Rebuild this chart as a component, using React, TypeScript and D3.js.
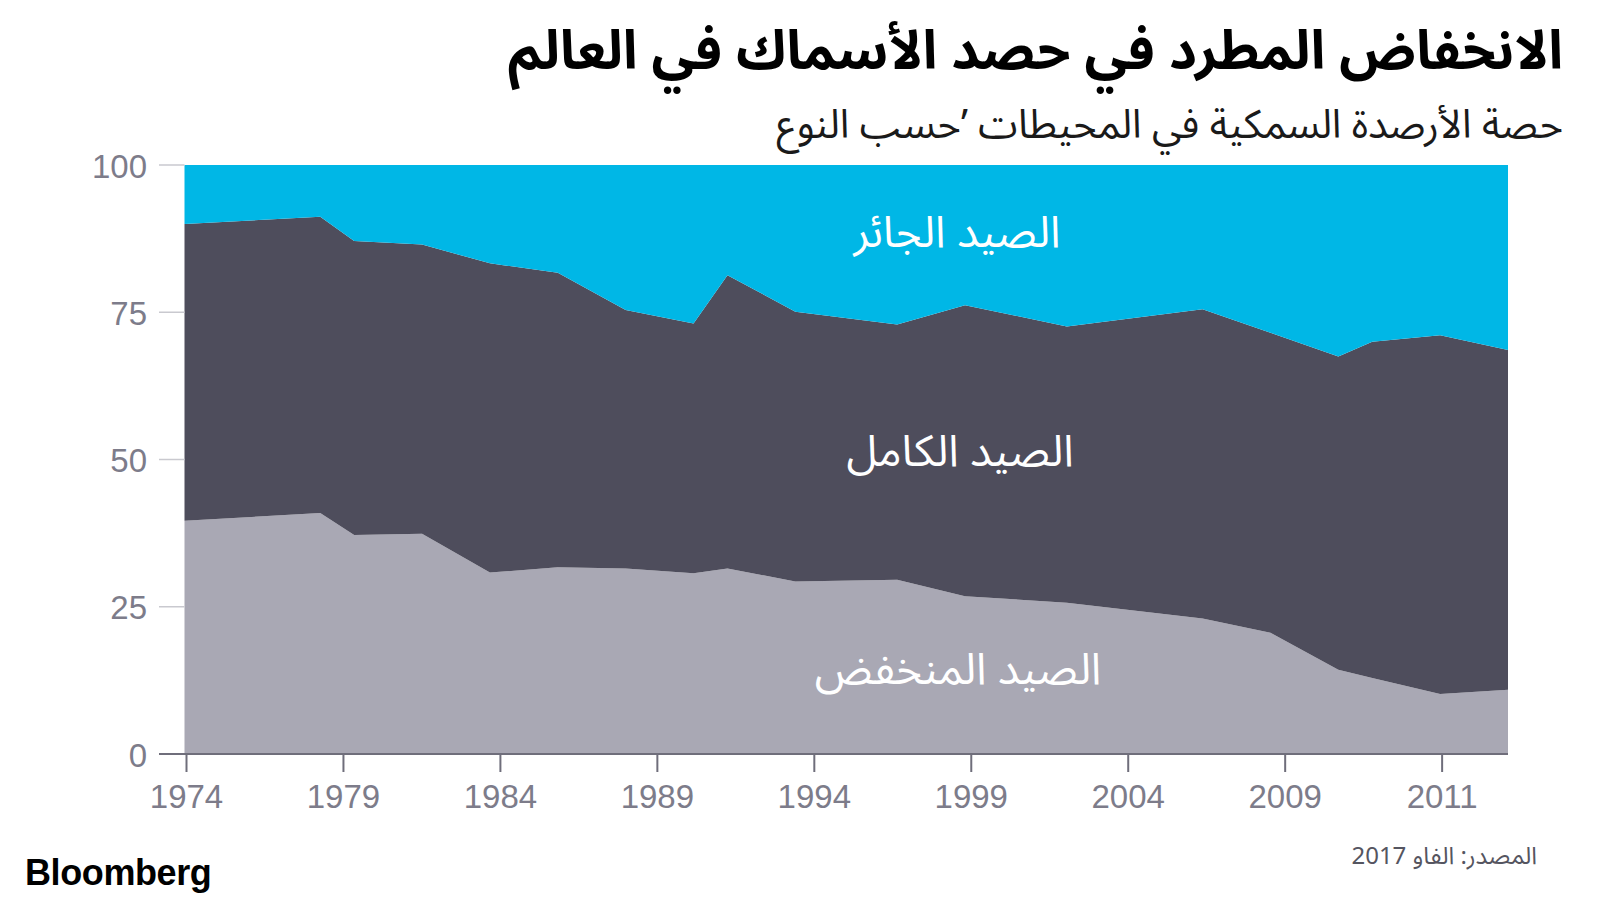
import React from "react";
import * as d3 from "d3";

// Data (share of assessed fish stocks, %)
const years = [1974, 1978, 1979, 1981, 1983, 1985, 1987, 1989, 1990, 1992, 1995, 1997, 2000, 2004, 2006, 2008, 2009, 2011, 2013];
const underfished = [39.6, 40.9, 37.2, 37.4, 30.8, 31.7, 31.5, 30.7, 31.5, 29.3, 29.6, 26.8, 25.7, 23.0, 20.6, 14.3, 12.9, 10.2, 10.9];
const fullyFished = [50.4, 50.3, 49.9, 49.1, 52.5, 50.0, 43.9, 42.4, 49.8, 45.8, 43.3, 49.4, 46.9, 52.5, 50.9, 53.2, 57.1, 60.9, 57.7];
const overfished = [10.0, 8.8, 12.9, 13.5, 16.7, 18.3, 24.6, 26.9, 18.7, 24.9, 27.1, 23.8, 27.4, 24.5, 28.5, 32.5, 30.0, 28.9, 31.4];

const seriesKeys = ["under", "fully", "over"];
const seriesLabels = ["الصيد المنخفض", "الصيد الكامل", "الصيد الجائر"];
const seriesColors = ["#a9a8b4", "#4e4d5c", "#00b7e6"];

const yTicks = [0, 25, 50, 75, 100];
const xTickPos = [1974, 1978.625, 1983.25, 1987.875, 1992.5, 1997.125, 2001.75, 2006.375, 2011];
const xTickLabels = ["1974", "1979", "1984", "1989", "1994", "1999", "2004", "2009", "2011"];

const title = "الانخفاض المطرد في حصد الأسماك في العالم";
const subtitle = "حصة الأرصدة السمكية في المحيطات ’حسب النوع";
const source = "المصدر: الفاو 2017";

const RLE = "\u202B";
const PDF = "\u202C";

export default function App() {
  const W = 1600;
  const H = 900;
  const left = 184.5;
  const right = 1508;
  const top = 165;
  const bottom = 754;

  const x = d3.scaleLinear().domain([1974, 2013]).range([left, right]);
  const y = d3.scaleLinear().domain([0, 100]).range([bottom, top]);

  const table = years.map((yr, i) => ({
    year: yr,
    under: underfished[i],
    fully: fullyFished[i],
    over: overfished[i],
  }));
  const stack = d3.stack<any>().keys(seriesKeys)(table);
  const area = d3
    .area<any>()
    .x((d) => x(d.data.year))
    .y0((d) => y(d[0]))
    .y1((d) => y(d[1]))
    .curve(d3.curveLinear);

  const labelPos = [
    { x: 958, y: 684 },
    { x: 960, y: 466 },
    { x: 957, y: 247 },
  ];

  const arFont = "'Noto Sans Arabic', 'Noto Kufi Arabic', 'DejaVu Sans', sans-serif";
  const numFont = "'Liberation Sans', Arial, sans-serif";
  const tickColor = "#7d7c8a";

  return (
    <svg width={W} height={H} style={{ display: "block", position: "absolute", left: 0, top: 0 }}>
      <rect width={W} height={H} fill="#ffffff" />
      <text x={1563} y={69} textAnchor="end" fontFamily={arFont} fontWeight={700} fontSize={54} fill="#000">
        {RLE + title + PDF}
      </text>
      <text x={1563} y={138} textAnchor="end" fontFamily={arFont} fontWeight={400} fontSize={40} fill="#1a1a1a">
        {RLE + subtitle + PDF}
      </text>

      {stack.map((s, i) => (
        <path key={seriesKeys[i]} d={area(s) || ""} fill={seriesColors[i]} />
      ))}

      {yTicks.map((t) => (
        <g key={t}>
          {t !== 0 && <line x1={159} x2={left} y1={y(t)} y2={y(t)} stroke="#c9c9cf" strokeWidth={1.5} />}
          <text x={147} y={y(t) + 12.5} textAnchor="end" fontFamily={numFont} fontSize={33} fill={tickColor}>
            {t}
          </text>
        </g>
      ))}
      <line x1={159} x2={right} y1={bottom} y2={bottom} stroke="#6f6e7b" strokeWidth={2} />
      {xTickPos.map((p, i) => (
        <g key={xTickLabels[i]}>
          <line x1={x(p) + 2} x2={x(p) + 2} y1={bottom} y2={772} stroke="#6f6e7b" strokeWidth={2} />
          <text x={x(p) + 2} y={807.5} textAnchor="middle" fontFamily={numFont} fontSize={33} fill={tickColor}>
            {xTickLabels[i]}
          </text>
        </g>
      ))}

      {seriesLabels.map((lab, i) => (
        <text key={lab} x={labelPos[i].x} y={labelPos[i].y} textAnchor="middle" fontFamily={arFont} fontSize={44} fill="#ffffff">
          {RLE + lab + PDF}
        </text>
      ))}

      <text x={1537} y={864} textAnchor="end" fontFamily={arFont} fontSize={24} fill="#555560">
        {RLE + source + PDF}
      </text>
      <text x={25} y={885} fontFamily={numFont} fontWeight={700} fontSize={36} fill="#000" letterSpacing={-0.4}>
        Bloomberg
      </text>
    </svg>
  );
}
